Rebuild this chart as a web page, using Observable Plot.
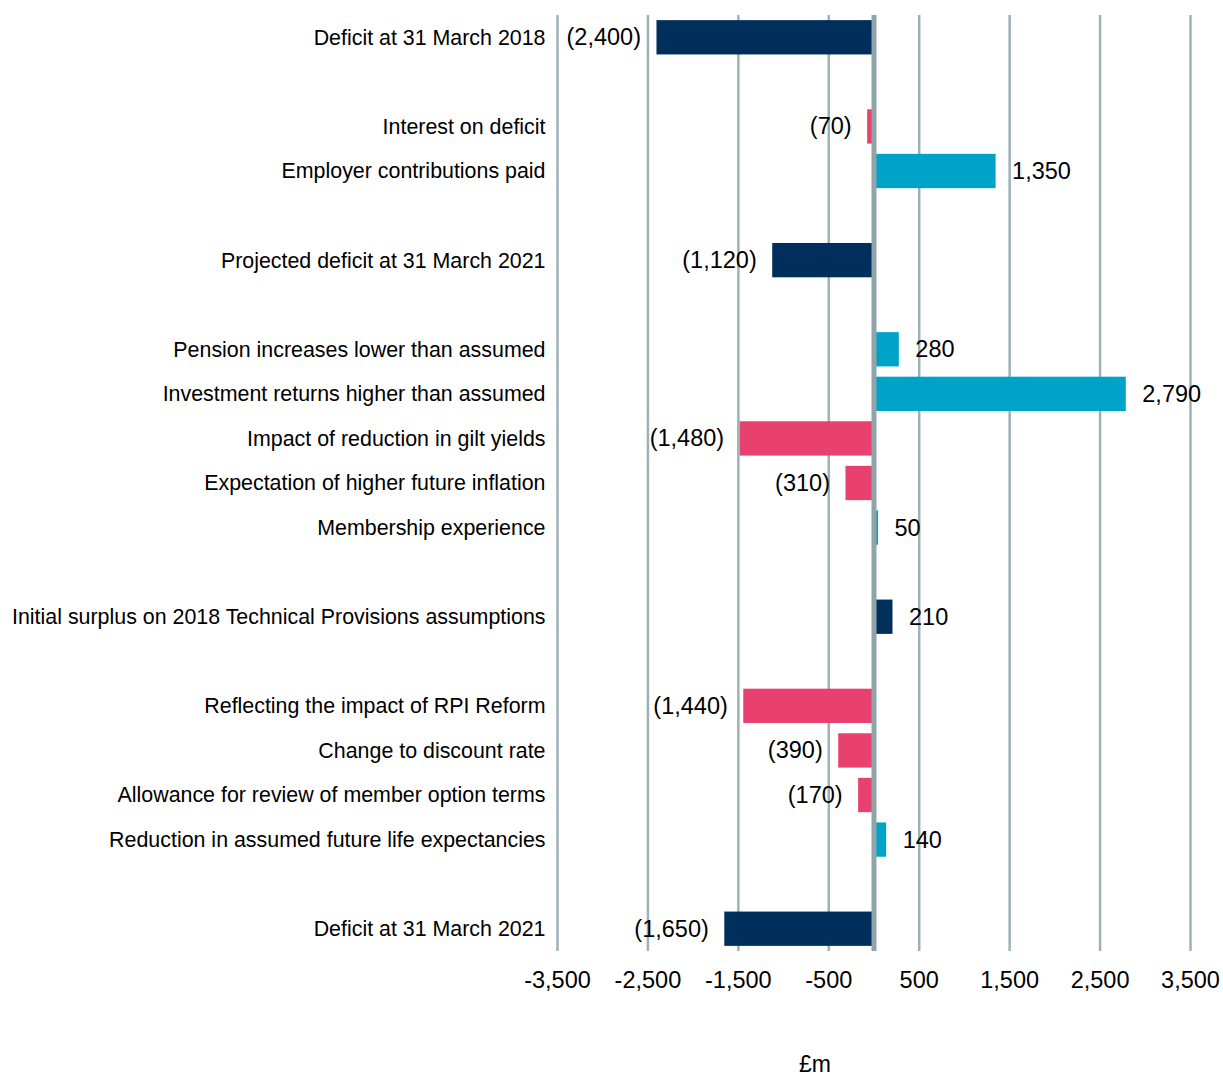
<!DOCTYPE html>
<html>
<head>
<meta charset="utf-8">
<script src="https://cdn.jsdelivr.net/npm/d3@7"></script>
<script src="https://cdn.jsdelivr.net/npm/@observablehq/plot@0.6"></script>
<style>
  html, body { margin: 0; padding: 0; background: #fff; }
</style>
</head>
<body>
<div id="chart"></div>
<script>
const categories = [
  "Deficit at 31 March 2018",
  "",
  "Interest on deficit",
  "Employer contributions paid",
  "",
  "Projected deficit at 31 March 2021",
  "",
  "Pension increases lower than assumed",
  "Investment returns higher than assumed",
  "Impact of reduction in gilt yields",
  "Expectation of higher future inflation",
  "Membership experience",
  "",
  "Initial surplus on 2018 Technical Provisions assumptions",
  "",
  "Reflecting the impact of RPI Reform",
  "Change to discount rate",
  "Allowance for review of member option terms",
  "Reduction in assumed future life expectancies",
  "",
  "Deficit at 31 March 2021"
];
const values = [-2400, null, -70, 1350, null, -1120, null, 280, 2790, -1480, -310, 50, null, 210, null, -1440, -390, -170, 140, null, -1650];
const kinds = ["Total", null, "Decrease", "Increase", null, "Total", null, "Increase", "Increase", "Decrease", "Decrease", "Increase", null, "Total", null, "Decrease", "Decrease", "Decrease", "Increase", null, "Total"];
const kindNames = ["Total", "Decrease", "Increase"];
const kindColors = ["#002f5c", "#e8406f", "#00a3c8"];
const xTicks = [-3500, -2500, -1500, -500, 500, 1500, 2500, 3500];
const axisTitle = "£m";

const rows = categories.map((c, i) => ({i, category: c, value: values[i], kind: kinds[i]}))
  .filter(d => d.value !== null);

const comma = d3.format(",");
const tickFmt = d => (d < 0 ? "-" : "") + comma(Math.abs(d));
const valueFmt = d => d < 0 ? "(" + comma(-d) + ")" : comma(d);

const chart = Plot.plot({
  width: 1223,
  height: 1076,
  marginTop: 15,
  marginBottom: 125,
  marginLeft: 557,
  marginRight: 33,
  style: {fontFamily: "Arial, 'Liberation Sans', sans-serif", fontSize: "21px", color: "#000", background: "#fff"},
  x: {domain: [-3500, 3500]},
  y: {domain: d3.range(categories.length), paddingInner: 0.23, paddingOuter: 0.115, round: false},
  color: {domain: kindNames, range: kindColors},
  marks: [
    Plot.ruleX(xTicks, {stroke: "#9db2b7", strokeWidth: 2.5}),
    Plot.barX(rows, {x: "value", y: "i", fill: "kind"}),
    Plot.ruleX([0], {stroke: "#8fa5aa", strokeWidth: 5}),
    Plot.text(rows.filter(d => d.value < 0), {x: "value", y: "i", text: d => valueFmt(d.value), textAnchor: "end", dx: -16, fontSize: 23.5, fill: "#000"}),
    Plot.text(rows.filter(d => d.value >= 0), {x: "value", y: "i", text: d => valueFmt(d.value), textAnchor: "start", dx: 16, fontSize: 23.5, fill: "#000"}),
    Plot.axisY({tickSize: 0, tickPadding: 12, tickFormat: i => categories[i], fontSize: 21.4, label: null}),
    Plot.axisX({ticks: xTicks, tickFormat: tickFmt, tickSize: 0, tickPadding: 20, fontSize: 23.5, label: null}),
    Plot.text([axisTitle], {frameAnchor: "bottom", dx: -59, dy: 120, fontSize: 23, fill: "#000"})
  ]
});
document.getElementById("chart").appendChild(chart);
</script>
</body>
</html>
